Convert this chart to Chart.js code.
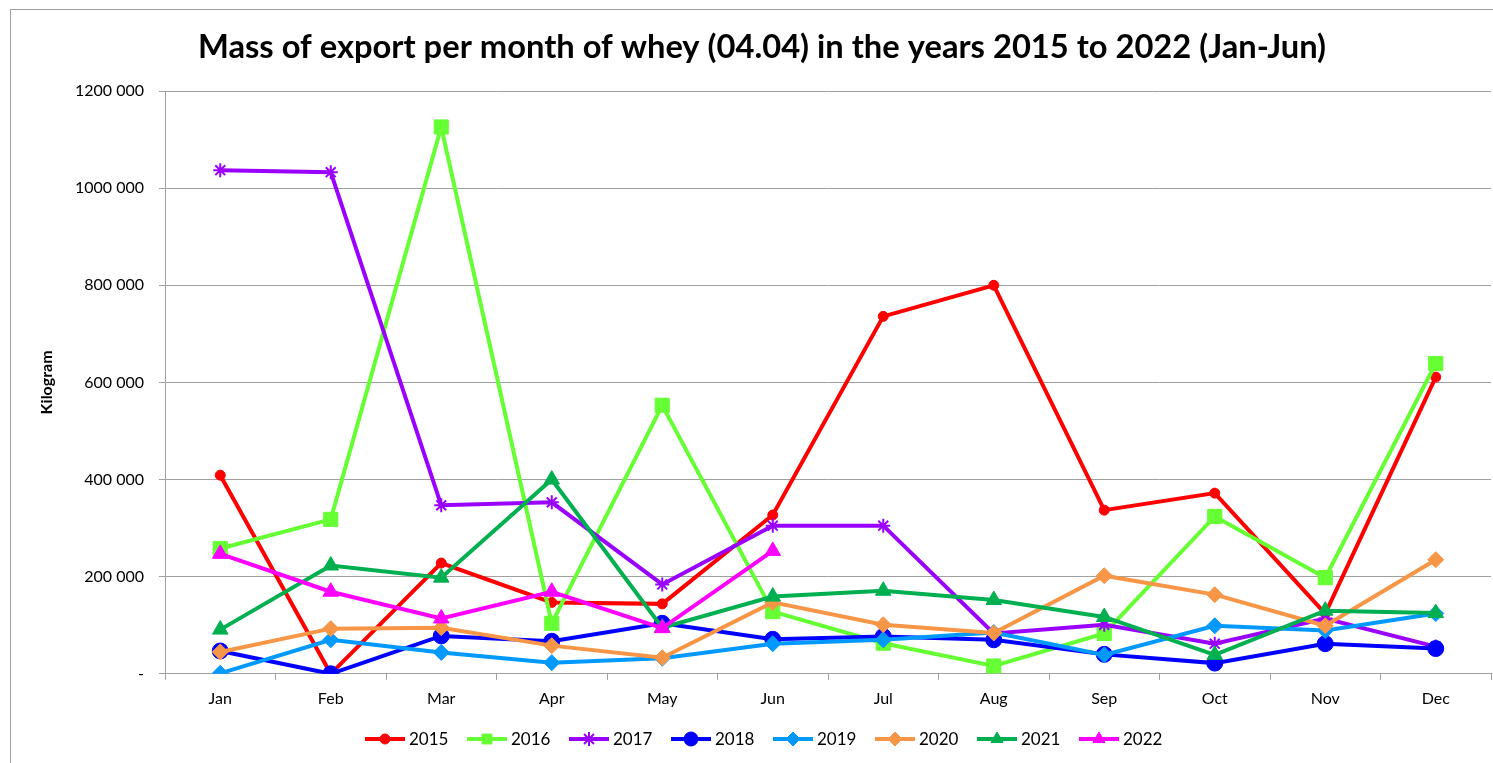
<!DOCTYPE html>
<html>
<head>
<meta charset="utf-8">
<script src="https://cdn.jsdelivr.net/npm/chart.js@4.4.1/dist/chart.umd.min.js"></script>
<style>
    html, body { margin: 0; padding: 0; background: #fff; overflow: hidden; }
    #frame {
        position: absolute;
        left: 10px;
        top: 9px;
        width: 1502px;
        height: 780px;
        border: 1px solid #a0a0a0;
    }
    #chartBox { position: relative; width: 1502px; height: 760px; }
</style>
</head>
<body>
<div id="frame">
    <div id="chartBox"><canvas id="wheyChart"></canvas></div>
</div>
<script>
// months and series values (kg)
const months = ['Jan', 'Feb', 'Mar', 'Apr', 'May', 'Jun', 'Jul', 'Aug', 'Sep', 'Oct', 'Nov', 'Dec'];
const years = ['2015', '2016', '2017', '2018', '2019', '2020', '2021', '2022'];

const y2015 = [409000, 0, 228000, 147000, 144000, 327000, 736000, 800000, 337000, 372000, 124000, 611000];
const y2016 = [258000, 318000, 1126000, 104000, 553000, 128000, 63000, 16000, 83000, 324000, 198000, 639000];
const y2017 = [1037000, 1033000, 347000, 353000, 184000, 305000, 305000, 83000, 101000, 62000, 114000, 56000];
const y2018 = [47000, 0, 78000, 67000, 104000, 71000, 77000, 70000, 40000, 22000, 62000, 52000];
const y2019 = [1000, 70000, 44000, 23000, 32000, 62000, 70000, 85000, 39000, 99000, 89000, 124000];
const y2020 = [45000, 93000, 95000, 58000, 33000, 147000, 101000, 84000, 202000, 163000, 99000, 235000];
const y2021 = [91000, 223000, 198000, 400000, 95000, 159000, 171000, 152000, 117000, 39000, 130000, 125000];
const y2022 = [247000, 169000, 114000, 169000, 94000, 253000, null, null, null, null, null, null];

const yTicks = [0, 200000, 400000, 600000, 800000, 1000000, 1200000];

const seriesValues = [y2015, y2016, y2017, y2018, y2019, y2020, y2021, y2022];
const seriesColors = ['#ff0000', '#66ff33', '#9900ff', '#0000ff', '#0099ff', '#f79646', '#00b050', '#ff00ff'];
const seriesPoints = ['circle', 'rect', 'star', 'circle', 'rectRot', 'rectRot', 'triangle', 'triangle'];
const seriesRadius = [5, 10, 7, 8, 8, 8, 9, 9];

const FONT = 'Lato, "Open Sans", sans-serif';
const GRID = '#a0a0a0';

const datasets = years.map((year, i) => ({
    label: year,
    data: seriesValues[i],
    borderColor: seriesColors[i],
    backgroundColor: seriesColors[i],
    borderWidth: 4,
    tension: 0,
    pointStyle: seriesPoints[i],
    pointRadius: seriesRadius[i],
    pointHoverRadius: seriesRadius[i],
    pointBorderWidth: seriesPoints[i] === 'star' ? 2 : 1,
    pointBackgroundColor: seriesColors[i],
    pointBorderColor: seriesColors[i],
    spanGaps: false,
    order: years.length - i
}));

// legend drawn by hand: line segment with marker, like the spreadsheet legend
const lineLegend = {
    id: 'lineLegend',
    afterDraw(chart) {
        const ctx = chart.ctx;
        const startX = 354;
        const y = 729;
        const step = 102;
        ctx.save();
        chart.data.datasets.forEach((ds, i) => {
            const x = startX + i * step;
            ctx.strokeStyle = ds.borderColor;
            ctx.fillStyle = ds.borderColor;
            ctx.lineWidth = 4;
            ctx.beginPath();
            ctx.moveTo(x, y);
            ctx.lineTo(x + 40, y);
            ctx.stroke();
            ctx.lineWidth = ds.pointBorderWidth;
            Chart.helpers.drawPoint(ctx, {
                pointStyle: ds.pointStyle,
                radius: Math.min(ds.pointRadius, 7),
                rotation: 0,
                borderWidth: ds.pointBorderWidth
            }, x + 20, y);
            ctx.fillStyle = '#000';
            ctx.font = '17px ' + FONT;
            ctx.textBaseline = 'middle';
            ctx.textAlign = 'left';
            ctx.fillText(ds.label, x + 44, y + 1);
        });
        ctx.restore();
    }
};

const ctx = document.getElementById('wheyChart').getContext('2d');
new Chart(ctx, {
    type: 'line',
    data: { labels: months, datasets: datasets },
    plugins: [lineLegend],
    options: {
        responsive: true,
        maintainAspectRatio: false,
        animation: false,
        layout: { padding: { left: 22, right: 22, top: 0, bottom: 53 } },
        plugins: {
            legend: { display: false },
            tooltip: { enabled: false },
            title: {
                display: true,
                text: 'Mass of export per month of whey (04.04) in the years 2015 to 2022 (Jan-Jun)',
                color: '#000',
                font: { family: FONT, size: 32.7, weight: 'bold', lineHeight: 1.2 },
                padding: { top: 18, bottom: 23.8 }
            }
        },
        scales: {
            x: {
                offset: true,
                grid: {
                    display: true,
                    drawOnChartArea: false,
                    drawTicks: true,
                    tickLength: 6,
                    offset: true,
                    color: GRID
                },
                border: { display: true, color: GRID, width: 1 },
                ticks: {
                    color: '#000',
                    font: { family: FONT, size: 16 },
                    padding: 9,
                    maxRotation: 0,
                    autoSkip: false
                }
            },
            y: {
                min: 0,
                max: 1200000,
                afterFit(scale) { scale.width = 132; },
                afterBuildTicks(scale) { scale.ticks = yTicks.map(v => ({ value: v })); },
                grid: { color: GRID, tickLength: 6, lineWidth: 1 },
                border: { display: true, color: GRID, width: 1 },
                ticks: {
                    color: '#000',
                    font: { family: FONT, size: 16 },
                    padding: 15,
                    callback(value) {
                        if (value === 0) return '-';
                        return Math.floor(value / 1000) + ' 000';
                    }
                },
                title: {
                    display: true,
                    text: 'Kilogram',
                    color: '#000',
                    font: { family: FONT, size: 16, weight: 'bold', lineHeight: 1.2 },
                    padding: { top: 4.4, bottom: 4 }
                }
            }
        }
    }
});
</script>
</body>
</html>
